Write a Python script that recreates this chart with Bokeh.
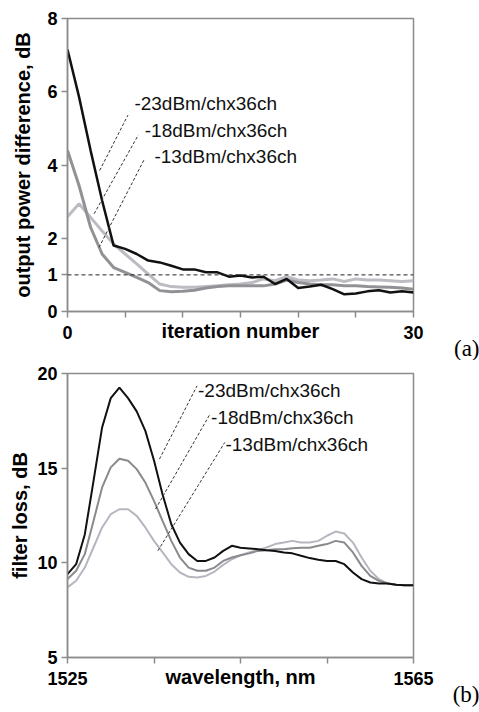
from bokeh.plotting import figure
from bokeh.models import Span, Label, FixedTicker, ColumnDataSource, Title
from bokeh.layouts import column
from bokeh.embed import file_html
from bokeh.resources import INLINE

# ---------------- data: panel (a) ----------------
iterations = list(range(0, 31))
a_m23 = [7.15, 5.86, 4.40, 3.03, 1.80, 1.71, 1.57, 1.39, 1.34, 1.25, 1.15, 1.15, 1.07, 1.07,
         0.95, 0.98, 0.93, 0.95, 0.75, 0.89, 0.64, 0.68, 0.73, 0.61, 0.47, 0.49, 0.55, 0.58,
         0.52, 0.55, 0.52]
a_m18 = [4.40, 3.44, 2.30, 1.57, 1.20, 1.07, 0.93, 0.79, 0.57, 0.54, 0.55, 0.58, 0.64, 0.68,
         0.70, 0.70, 0.70, 0.70, 0.75, 0.86, 0.79, 0.75, 0.73, 0.73, 0.70, 0.70, 0.68, 0.67,
         0.66, 0.64, 0.61]
a_m13 = [2.59, 2.94, 2.57, 2.20, 1.84, 1.57, 1.30, 1.02, 0.75, 0.68, 0.66, 0.66, 0.68, 0.70,
         0.73, 0.75, 0.79, 0.89, 0.84, 0.95, 0.86, 0.84, 0.86, 0.89, 0.82, 0.89, 0.86, 0.86,
         0.84, 0.82, 0.84]
a_yticks = [0, 1, 2, 4, 6, 8]
a_xticks = [0, 5, 10, 15, 20, 25, 30]
a_xlabels = {0: "0", 30: "30"}
threshold = 1

# ---------------- data: panel (b) ----------------
wavelength = list(range(1525, 1566))
b_m23 = [9.40, 9.93, 11.50, 14.30, 17.15, 18.70, 19.26, 18.70, 18.00, 16.97, 15.40, 13.60,
         12.04, 11.07, 10.46, 10.10, 10.10, 10.28, 10.63, 10.90, 10.80, 10.76, 10.72, 10.67,
         10.63, 10.55, 10.50, 10.37, 10.25, 10.16, 10.10, 10.10, 9.93, 9.49, 9.14, 8.96,
         8.91, 8.91, 8.84, 8.82, 8.82]
b_m18 = [9.14, 9.58, 10.46, 12.20, 13.98, 15.04, 15.50, 15.39, 14.95, 14.24, 13.27, 12.20,
         11.16, 10.28, 9.75, 9.58, 9.58, 9.75, 10.10, 10.28, 10.40, 10.50, 10.63, 10.67,
         10.72, 10.72, 10.77, 10.80, 10.80, 10.90, 10.99, 11.16, 11.07, 10.55, 9.84, 9.31,
         9.05, 8.91, 8.84, 8.82, 8.82]
b_m13 = [8.70, 9.05, 9.75, 10.81, 11.87, 12.57, 12.83, 12.83, 12.48, 11.87, 11.16, 10.55,
         9.93, 9.49, 9.26, 9.23, 9.31, 9.54, 9.89, 10.19, 10.40, 10.55, 10.67, 10.81, 10.99,
         11.07, 11.16, 11.07, 11.07, 11.16, 11.43, 11.65, 11.55, 11.07, 10.28, 9.58, 9.14,
         8.91, 8.84, 8.82, 8.82]
b_yticks = [5, 10, 15, 20]
b_xticks = [1525, 1535, 1545, 1555, 1565]
b_xlabels = {1525: "1525", 1565: "1565"}

series_names = ["-23dBm/chx36ch", "-18dBm/chx36ch", "-13dBm/chx36ch"]

# ---------------- annotation layout (data units) ----------------
a_leaders = dict(x0=[2.79, 2.31, 2.73], y0=[3.85, 2.67, 1.75],
                 x1=[5.24, 6.14, 6.70], y1=[5.36, 4.82, 4.18])
a_text_pos = [(5.80, 5.69), (6.70, 4.95), (7.54, 4.22)]
b_leaders = dict(x0=[1535.63, 1535.18, 1535.45], y0=[15.48, 12.84, 10.64],
                 x1=[1539.98, 1541.48, 1543.18], y1=[19.35, 17.86, 16.36])
b_text_pos = [(1540.09, 19.09), (1541.6, 17.68), (1543.26, 16.27)]

SANS = "Liberation Sans"
SERIF = "Liberation Serif"
AXIS_GRAY = "#8c8c8c"


def style(p, xlabel, ylabel, ylabel_standoff):
    p.xgrid.visible = False
    p.ygrid.visible = False
    p.outline_line_color = AXIS_GRAY
    p.outline_line_width = 1.5
    p.background_fill_color = "white"
    p.border_fill_color = "white"
    for ax in (p.xaxis[0], p.yaxis[0]):
        ax.axis_line_color = AXIS_GRAY
        ax.axis_line_width = 1.5
        ax.major_tick_line_color = AXIS_GRAY
        ax.major_tick_line_width = 1.5
        ax.major_tick_in = 0
        ax.major_tick_out = 6
        ax.minor_tick_line_color = None
        ax.major_label_text_font = SANS
        ax.major_label_text_font_style = "bold"
        ax.major_label_text_font_size = "18px"
        ax.major_label_text_color = "black"
        ax.axis_label_text_font = SANS
        ax.axis_label_text_font_style = "bold"
        ax.axis_label_text_font_size = "20px"
        ax.axis_label_text_color = "black"
    p.xaxis[0].major_label_standoff = 8
    p.yaxis[0].major_label_standoff = 4
    p.xaxis[0].axis_label = xlabel
    p.xaxis[0].axis_label_standoff = -22
    p.yaxis[0].axis_label = ylabel
    p.yaxis[0].axis_label_standoff = ylabel_standoff


def panel_tag(p, text, standoff):
    p.add_layout(Title(text=text, align="right", offset=-66, standoff=standoff,
                       text_font=SERIF, text_font_style="normal",
                       text_font_size="23px", text_color="black"), "below")


# ---------------- panel (a) ----------------
pa = figure(width=479, height=360, x_range=(0, 30), y_range=(0, 8),
            output_backend="svg", toolbar_location=None,
            min_border_left=67, min_border_right=54, min_border_top=18, min_border_bottom=49)
style(pa, "iteration number", "output power difference, dB", 10)
pa.xaxis[0].ticker = FixedTicker(ticks=a_xticks)
pa.xaxis[0].major_label_overrides = {t: a_xlabels.get(t, "") for t in a_xticks}
pa.yaxis[0].ticker = FixedTicker(ticks=a_yticks)
panel_tag(pa, "(a)", -22)

pa.add_layout(Span(location=threshold, dimension="width", line_color="#222222",
                   line_width=1, line_dash="4 3"))
pa.line(iterations, a_m13, line_color="#bcbcc2", line_width=3)
pa.line(iterations, a_m18, line_color="#929296", line_width=3)
pa.line(iterations, a_m23, line_color="#111111", line_width=2.5)

pa.segment(x0="x0", y0="y0", x1="x1", y1="y1", source=ColumnDataSource(a_leaders),
           line_color="#333333", line_width=1, line_dash="3 2")
for name, (tx, ty) in zip(series_names, a_text_pos):
    pa.add_layout(Label(x=tx, y=ty, text=name, text_font=SANS, text_font_size="19px",
                        text_baseline="middle", text_align="left", text_color="#111111"))

# ---------------- panel (b) ----------------
pb = figure(width=479, height=352, x_range=(1525, 1565), y_range=(5, 20),
            output_backend="svg", toolbar_location=None,
            min_border_left=59, min_border_right=66, min_border_top=13, min_border_bottom=55)
style(pb, "wavelength, nm", "filter loss, dB", 3)
pb.xaxis[0].ticker = FixedTicker(ticks=b_xticks)
pb.xaxis[0].major_label_overrides = {t: b_xlabels.get(t, "") for t in b_xticks}
pb.yaxis[0].ticker = FixedTicker(ticks=b_yticks)
panel_tag(pb, "(b)", -22)

pb.line(wavelength, b_m13, line_color="#b6b6c0", line_width=2)
pb.line(wavelength, b_m18, line_color="#8a8a8e", line_width=2)
pb.line(wavelength, b_m23, line_color="#111111", line_width=2)

pb.segment(x0="x0", y0="y0", x1="x1", y1="y1", source=ColumnDataSource(b_leaders),
           line_color="#333333", line_width=1, line_dash="3 2")
for name, (tx, ty) in zip(series_names, b_text_pos):
    pb.add_layout(Label(x=tx, y=ty, text=name, text_font=SANS, text_font_size="19px",
                        text_baseline="middle", text_align="left", text_color="#111111"))

layout = column(pa, pb, spacing=0)
open("out.html", "w").write(file_html(layout, INLINE))
